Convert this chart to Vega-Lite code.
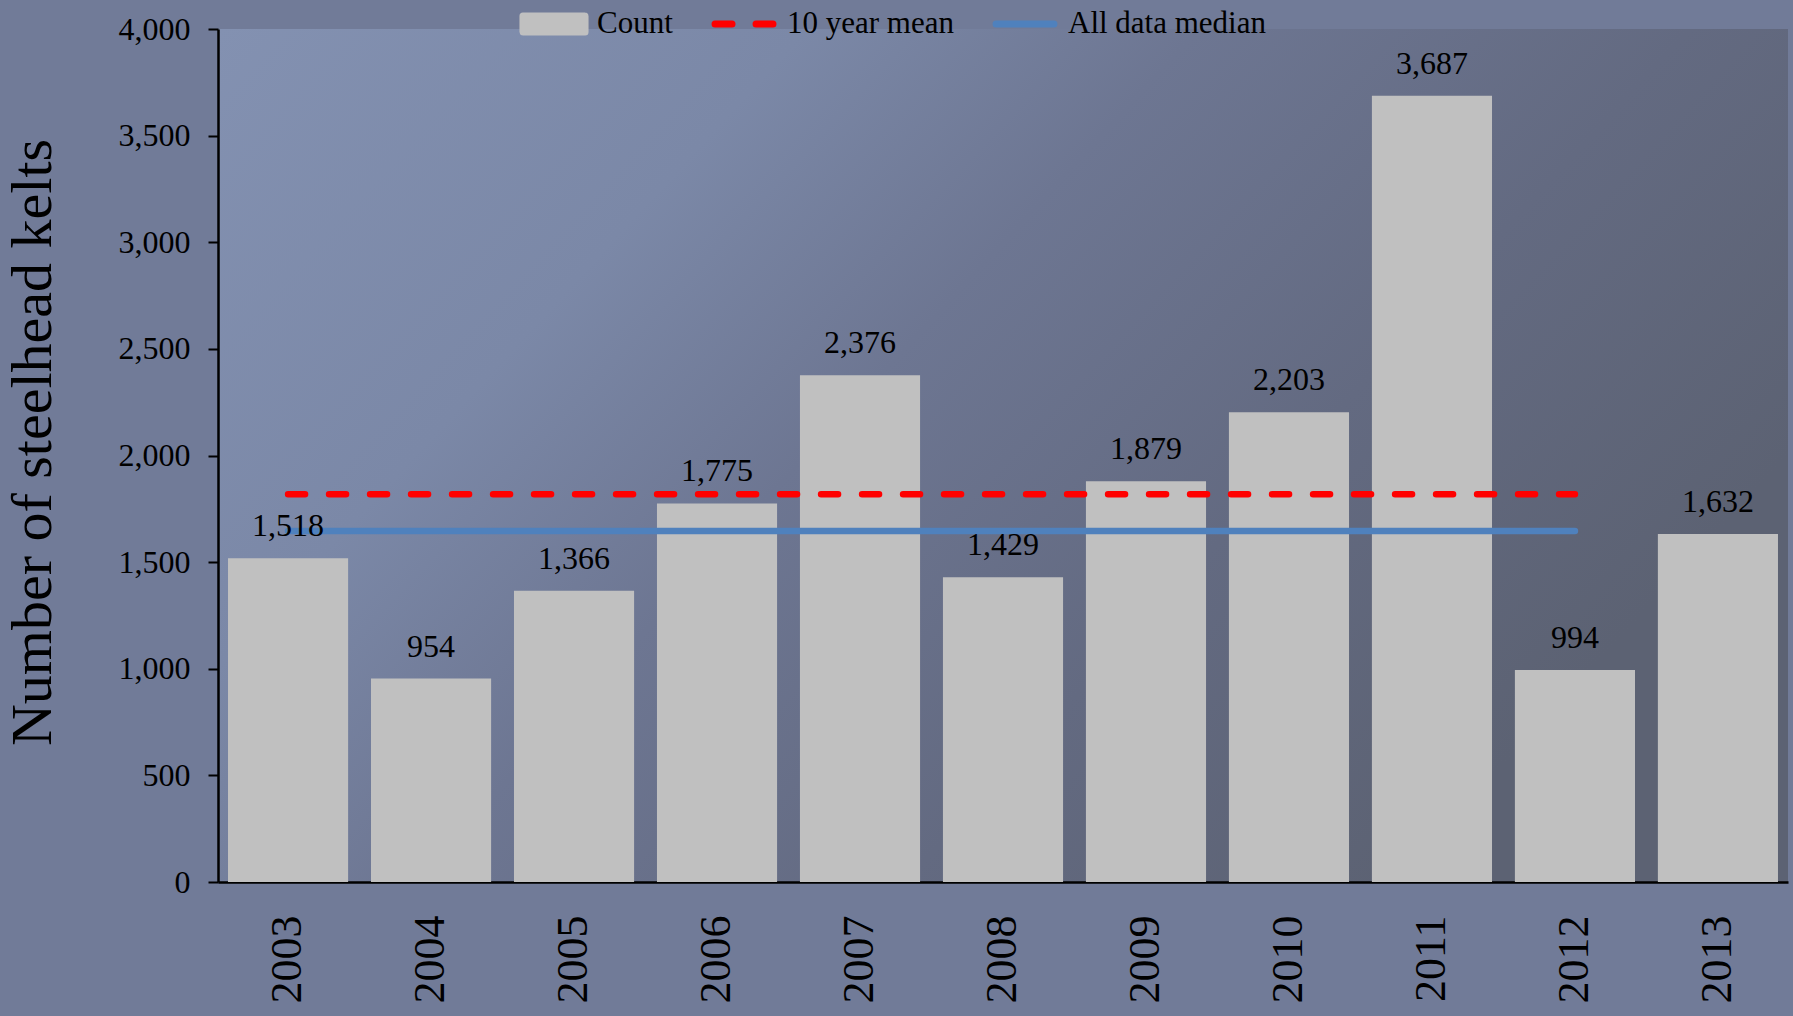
{
  "$schema": "https://vega.github.io/schema/vega-lite/v6.json",
  "autosize": {"type": "none"},
  "width": 1570,
  "height": 853,
  "padding": {"left": 218, "top": 29, "right": 5, "bottom": 134},
  "background": "#717b98",
  "config": {
    "font": "Liberation Serif",
    "view": {
      "stroke": null,
      "fill": {
        "gradient": "linear",
        "x1": 0, "y1": 0, "x2": 1, "y2": 0.5,
        "stops": [
          {"offset": 0, "color": "#8391b1"},
          {"offset": 0.3, "color": "#7b88a7"},
          {"offset": 0.5, "color": "#6d7692"},
          {"offset": 0.75, "color": "#636a81"},
          {"offset": 1, "color": "#5c6273"}
        ]
      }
    },
    "legend": {"title": null},
    "axis": {"grid": false, "domainColor": "#000000", "domainWidth": 2.5, "tickColor": "#000000", "tickWidth": 2, "labelColor": "#000000", "labelFont": "Liberation Serif", "titleFont": "Liberation Serif", "titleColor": "#000000", "titleFontWeight": "normal"}
  },
  "datasets": {
    "counts": [
      {"year": "2003", "count": 1518},
      {"year": "2004", "count": 954},
      {"year": "2005", "count": 1366},
      {"year": "2006", "count": 1775},
      {"year": "2007", "count": 2376},
      {"year": "2008", "count": 1429},
      {"year": "2009", "count": 1879},
      {"year": "2010", "count": 2203},
      {"year": "2011", "count": 3687},
      {"year": "2012", "count": 994},
      {"year": "2013", "count": 1632}
    ],
    "refs": [
      {"series": "10 year mean", "start": "2003", "end": "2012", "value": 1818.1},
      {"series": "All data median", "start": "2003", "end": "2012", "value": 1646.5}
    ]
  },
  "encoding": {
    "y": {
      "type": "quantitative",
      "scale": {"domain": [0, 4000], "nice": false, "zero": true},
      "axis": {
        "title": "Number of steelhead kelts",
        "values": [0, 500, 1000, 1500, 2000, 2500, 3000, 3500, 4000],
        "format": ",d",
        "labelFontSize": 32,
        "labelPadding": 18,
        "tickSize": 10,
        "titleFontSize": 58,
        "titleAngle": 270,
        "titleX": -168,
        "titleY": 413,
        "titleAlign": "center",
        "titleBaseline": "alphabetic"
      }
    }
  },
  "layer": [
    {
      "data": {"name": "counts"},
      "mark": {"type": "bar", "fill": "#c0c0c0"},
      "encoding": {
        "x": {
          "field": "year", "type": "ordinal",
          "scale": {"paddingInner": 0.16, "paddingOuter": 0.07},
          "axis": {"title": null, "ticks": false, "labelAngle": 270, "labelAlign": "right", "labelBaseline": "middle", "labelFontSize": 44, "labelPadding": 33}
        },
        "y": {"field": "count"},
        "color": {
          "datum": "Count",
          "title": null,
          "scale": {"domain": ["Count", "10 year mean", "All data median"], "range": ["#c0c0c0", "#ff0000", "#4f81bd"]},
          "legend": {
            "orient": "none",
            "legendX": 298,
            "legendY": -43,
            "direction": "horizontal",
            "title": null,
            "padding": 0,
            "symbolSize": 4761,
            "labelFont": "Liberation Serif",
            "labelFontSize": 31,
            "labelColor": "#000000",
            "labelLimit": 0,
            "labelOffset": 5,
            "columnPadding": 33,
            "symbolStrokeWidth": 7,
            "encode": {
              "symbols": {
                "update": {
                  "shape": [{"test": "datum.value === 'Count'", "value": "M-0.9,-0.232H0.9V0.232H-0.9Z"}, {"value": "M-0.84,0H0.84"}],
                  "fill": [{"test": "datum.value === 'Count'", "value": "#c0c0c0"}, {"value": "transparent"}],
                  "stroke": [{"test": "datum.value === 'Count'", "value": "#c0c0c0"}, {"test": "datum.value === '10 year mean'", "value": "#ff0000"}, {"value": "#4f81bd"}],
                  "strokeDash": [{"test": "datum.value === '10 year mean'", "value": [17, 24]}, {"value": [1, 0]}],
                  "strokeCap": {"value": "round"},
                  "strokeJoin": {"value": "bevel"},
                  "strokeWidth": {"value": 7},
                  "opacity": {"value": 1}
                }
              }
            }
          }
        }
      }
    },
    {
      "data": {"name": "refs"},
      "mark": {"type": "rule", "strokeWidth": 6.5, "strokeCap": "round"},
      "encoding": {
        "x": {"field": "start", "type": "ordinal"},
        "x2": {"field": "end"},
        "y": {"field": "value"},
        "color": {"field": "series", "type": "nominal", "title": null},
        "strokeDash": {
          "field": "series", "type": "nominal",
          "scale": {"domain": ["10 year mean", "All data median"], "range": [[17, 24], [1, 0]]},
          "legend": null
        }
      }
    },
    {
      "data": {"name": "counts"},
      "mark": {"type": "text", "font": "Liberation Serif", "fontSize": 32, "color": "#000000", "baseline": "alphabetic", "dy": -22},
      "encoding": {
        "x": {"field": "year", "type": "ordinal"},
        "y": {"field": "count"},
        "text": {"field": "count", "type": "quantitative", "format": ","}
      }
    }
  ]
}
